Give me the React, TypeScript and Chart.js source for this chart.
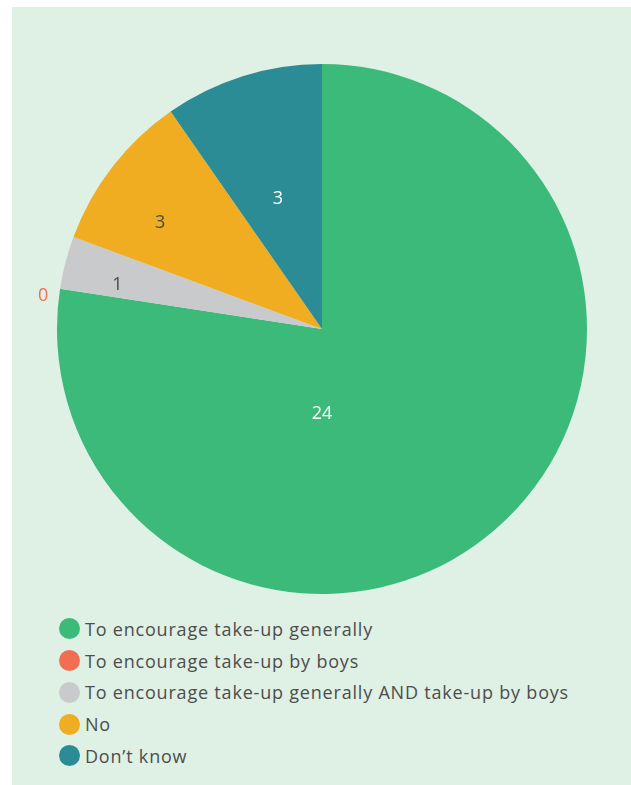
import React, { useEffect, useRef } from "react";
import { Chart, registerables } from "chart.js";

Chart.register(...registerables);

const categories = [
  "To encourage take-up generally",
  "To encourage take-up by boys",
  "To encourage take-up generally AND take-up by boys",
  "No",
  "Don\u2019t know",
];
const values = [24, 0, 1, 3, 3];
const colors = ["#3cba7a", "#f26e52", "#c9cacc", "#f0ad22", "#2b8c96"];
const labelColors = ["#ffffff", "#f26e52", "#4a4a4a", "#4a4a4a", "#ffffff"];

// label placement: angle delta from slice mid (deg) and radius fraction
const labelPlacement = [
  { da: 40.6, rf: 0.32 },
  { da: -2.0, rf: 1.06 },
  { da: -2.3, rf: 0.79 },
  { da: -4.5, rf: 0.73 },
  { da: -1.3, rf: 0.52 },
];

const FONT = "'Open Sans', 'Noto Sans', sans-serif";

const labelPlugin = {
  id: "sliceLabels",
  afterDatasetsDraw(chart: any) {
    const ctx = chart.ctx;
    const meta = chart.getDatasetMeta(0);
    ctx.save();
    ctx.font = `18px ${FONT}`;
    ctx.textAlign = "center";
    ctx.textBaseline = "middle";
    meta.data.forEach((arc: any, i: number) => {
      const p = arc.getProps(["x", "y", "startAngle", "endAngle", "outerRadius"], true);
      const mid = (p.startAngle + p.endAngle) / 2 + (labelPlacement[i].da * Math.PI) / 180;
      const r = p.outerRadius * labelPlacement[i].rf;
      ctx.fillStyle = labelColors[i];
      ctx.fillText(String(values[i]), p.x + Math.cos(mid) * r, p.y + Math.sin(mid) * r);
    });
    ctx.restore();
  },
};

export default function App() {
  const ref = useRef<HTMLCanvasElement>(null);
  useEffect(() => {
    if (!ref.current) return;
    const chart = new Chart(ref.current, {
      type: "pie",
      data: {
        labels: categories,
        datasets: [
          {
            data: values,
            backgroundColor: colors,
            borderWidth: 0,
            hoverOffset: 0,
          },
        ],
      },
      options: {
        responsive: false,
        animation: false,
        layout: { padding: 0 },
        plugins: {
          legend: { display: false },
          tooltip: { enabled: false },
        },
      },
      plugins: [labelPlugin],
    });
    return () => chart.destroy();
  }, []);

  return (
    <div
      style={{
        position: "absolute",
        left: 12,
        top: 7,
        width: 619,
        height: 778,
        background: "#dff0e4",
        fontFamily: FONT,
      }}
    >
      <canvas
        ref={ref}
        width={620}
        height={530}
        style={{ position: "absolute", left: 0, top: 57, width: 620, height: 530 }}
      />
      <div style={{ position: "absolute", left: 47, top: 606 }}>
        {categories.map((c, i) => (
          <div
            key={c}
            style={{ display: "flex", alignItems: "center", height: 31.75 }}
          >
            <span
              style={{
                display: "inline-block",
                width: 21,
                height: 21,
                borderRadius: "50%",
                background: colors[i],
                marginRight: 5,
              }}
            />
            <span
              style={{
                fontSize: 18,
                letterSpacing: 0.8,
                color: "#4d4d4d",
                whiteSpace: "nowrap",
              }}
            >
              {c}
            </span>
          </div>
        ))}
      </div>
    </div>
  );
}
